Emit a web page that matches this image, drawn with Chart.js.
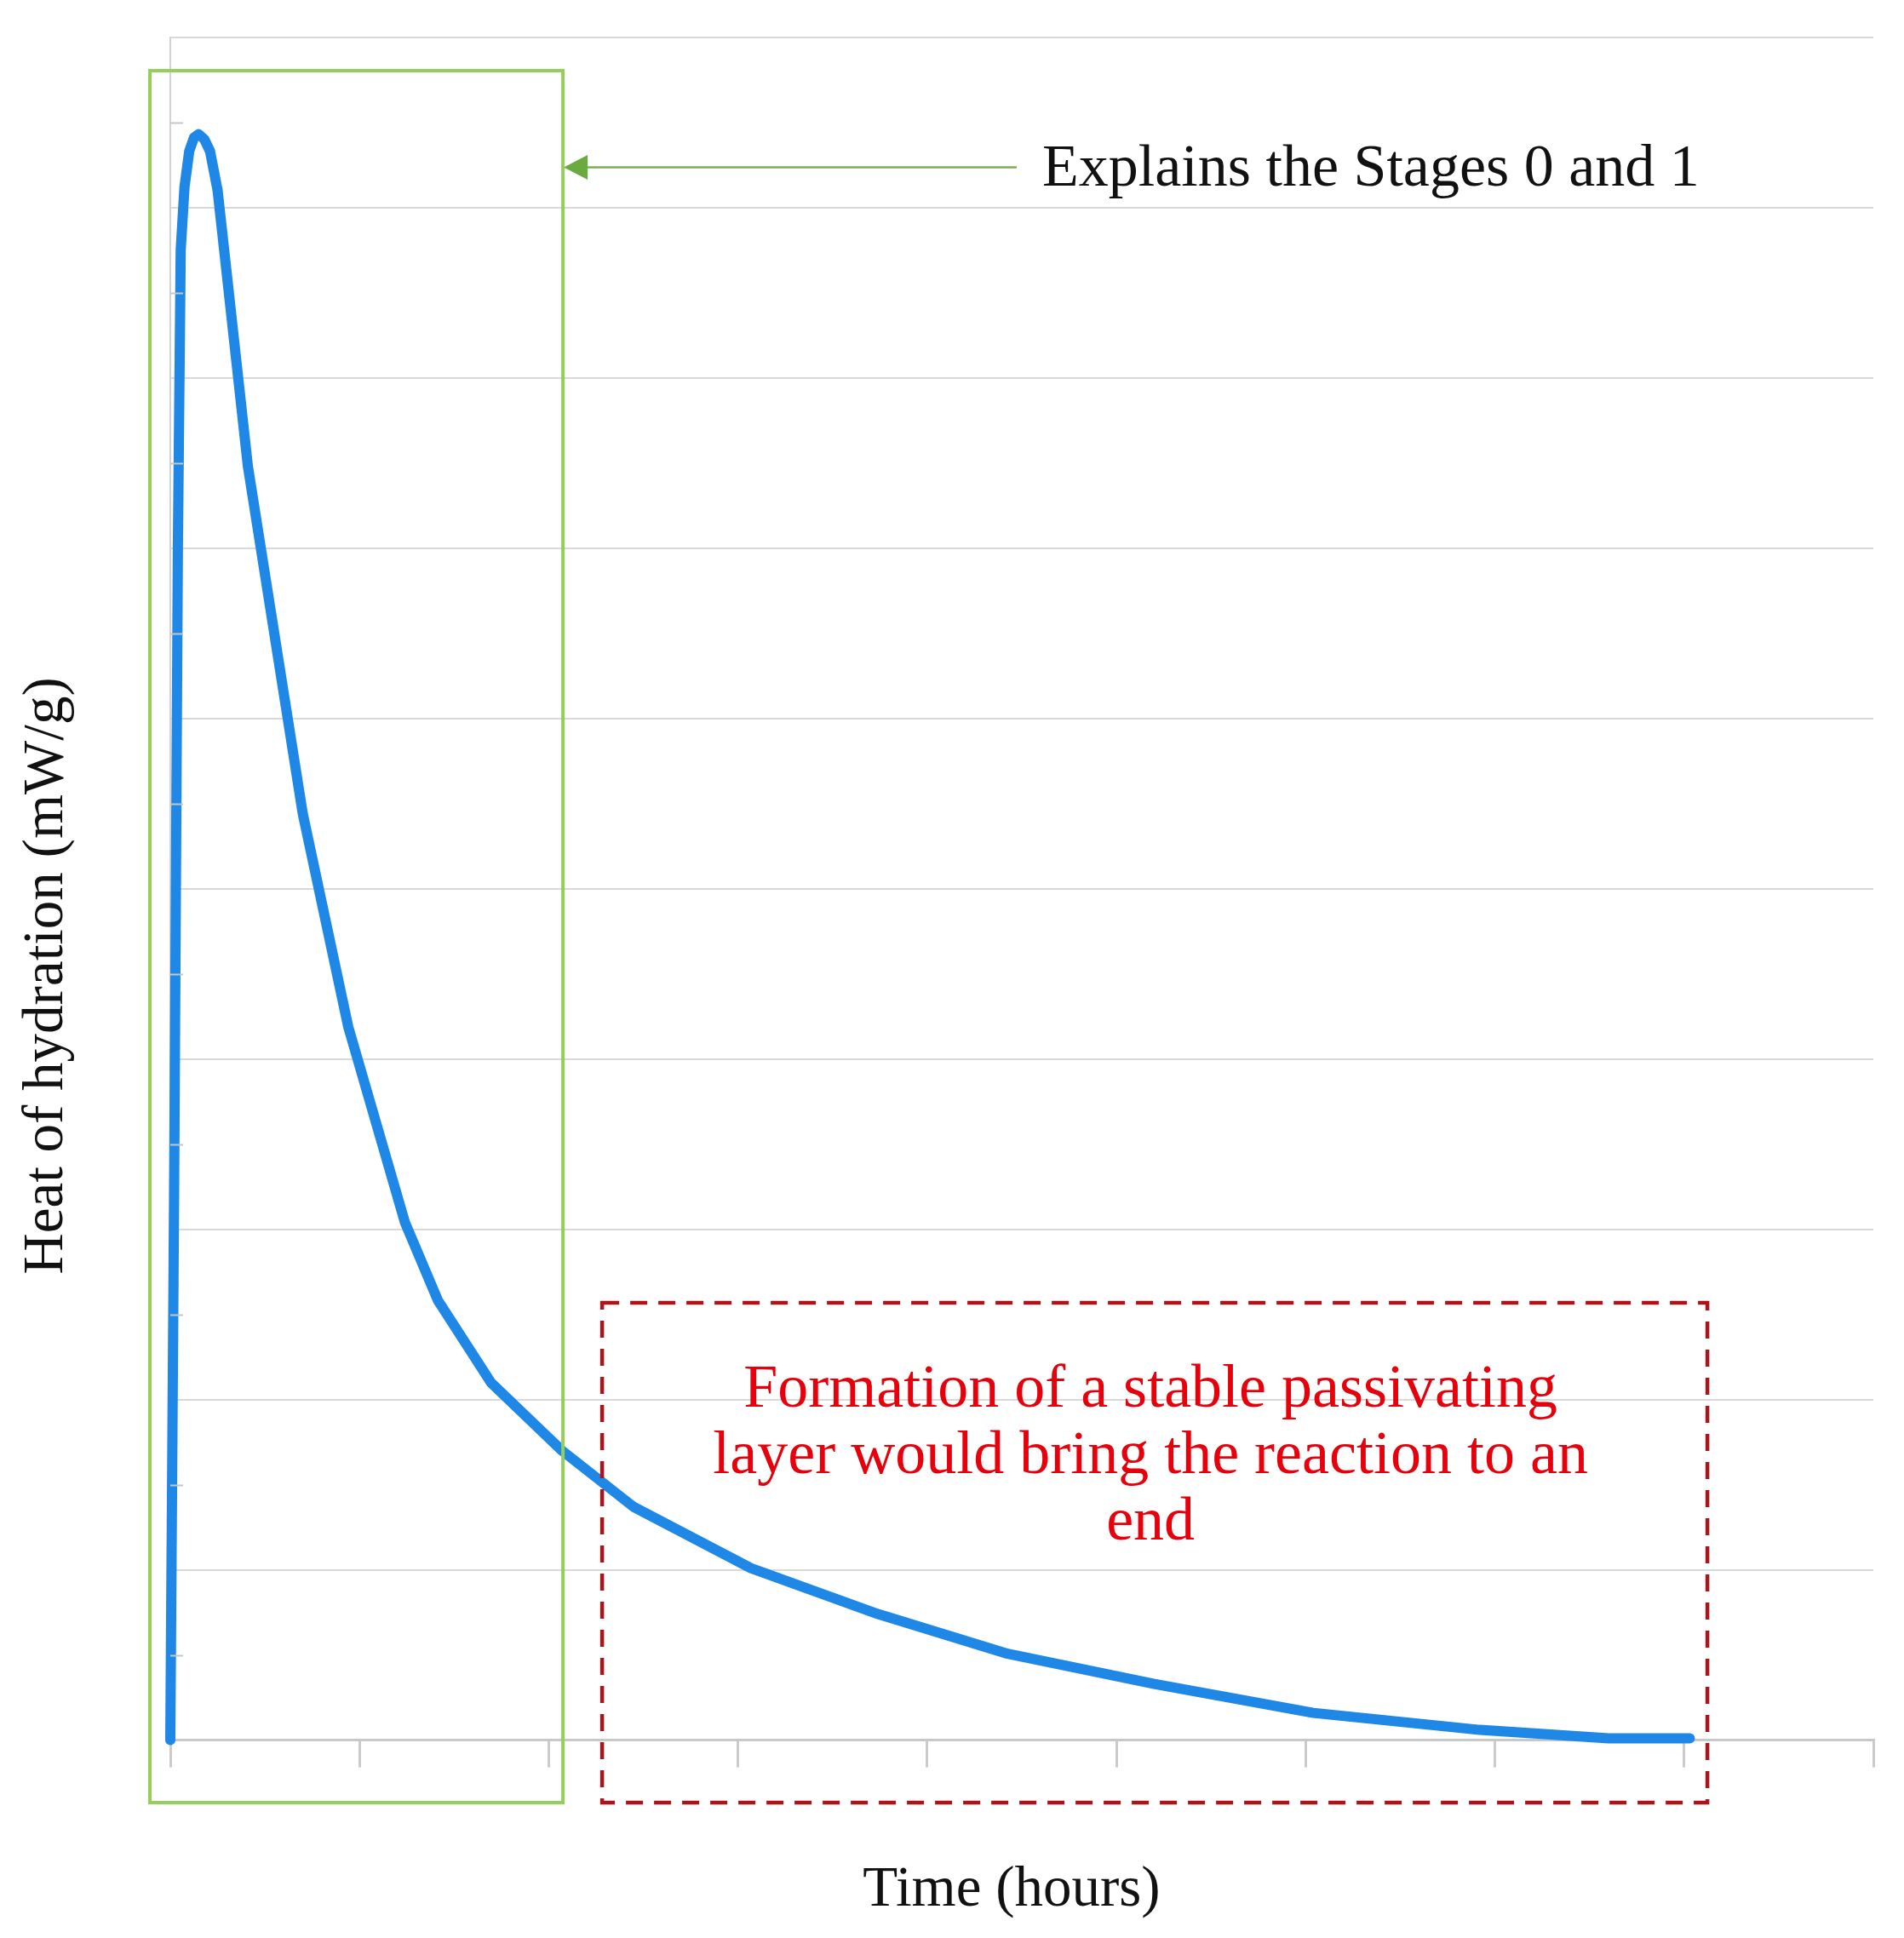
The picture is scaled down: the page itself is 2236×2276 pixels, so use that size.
<!DOCTYPE html>
<html>
<head>
<meta charset="utf-8">
<script src="https://cdn.jsdelivr.net/npm/chart.js@4.4.1/dist/chart.umd.min.js"></script>
<style>
  html, body { margin: 0; padding: 0; background: #ffffff; }
  canvas { display: block; }
</style>
</head>
<body>
<canvas id="c" width="2236" height="2276"></canvas>
<script>
// ---- data (x: time units along the axis, y: heat units) ----
const timeHours  = [0, 0.02, 0.04, 0.055, 0.075, 0.10, 0.125, 0.15, 0.18, 0.21, 0.25, 0.41, 0.70, 0.94, 1.24, 1.415, 1.694, 2.07, 2.448, 3.068, 3.74, 4.414, 5.2, 6.04, 6.92, 7.6, 8.03];
const heatValues = [0, 3.2, 7.0, 8.75, 9.12, 9.33, 9.41, 9.43, 9.40, 9.33, 9.10, 7.48, 5.44, 4.19, 3.04, 2.58, 2.10, 1.70, 1.37, 1.01, 0.74, 0.51, 0.33, 0.16, 0.06, 0.01, 0.01];

const xAxisTitle = 'Time (hours)';
const yAxisTitle = 'Heat of hydration (mW/g)';
const stageNote  = 'Explains the Stages 0 and 1';
const endNoteLines = ['Formation of a stable passivating', 'layer would bring the reaction to an', 'end'];

const xRange = [0, 9];
const yRange = [0, 10];

// annotation placement in axis units
const ann = {
  greenBox: { x0: -0.108, x1: 2.075, y0: 9.803, y1: -0.367 },
  redBox:   { x0: 2.282, x1: 8.123, y0: 2.568, y1: -0.367 },
  arrow:    { xFrom: 4.473, xTo: 2.075, y: 9.235 },
  stageText:{ x: 4.608, y: 9.128 },
  endText:  { x: 5.18, y: [1.958, 1.568, 1.178] },
  xTitle:   { x: 4.446, y: -0.972 },
  yTitle:   { x: -0.6525, y: 4.488 }
};

const serif = '"Liberation Serif", "Times New Roman", serif';

const overlay = {
  id: 'overlay',
  afterDraw(chart) {
    const ctx = chart.ctx;
    const xs = chart.scales.x, ys = chart.scales.y;
    const px = v => xs.getPixelForValue(v);
    const py = v => ys.getPixelForValue(v);
    ctx.save();

    // minor y tick marks between gridlines
    ctx.strokeStyle = '#c6c6c6';
    ctx.lineWidth = 2;
    for (let v = yRange[0] + 0.5; v < yRange[1]; v += 1) {
      const y = Math.round(py(v)) + 0.5;
      ctx.beginPath();
      ctx.moveTo(px(0), y);
      ctx.lineTo(px(0) + 15, y);
      ctx.stroke();
    }

    // green box
    const g = ann.greenBox;
    ctx.strokeStyle = '#94cf5a';
    ctx.lineWidth = 4;
    ctx.strokeRect(px(g.x0), py(g.y0), px(g.x1) - px(g.x0), py(g.y1) - py(g.y0));

    // arrow
    const a = ann.arrow;
    const ay = py(a.y);
    ctx.strokeStyle = '#79b052';
    ctx.lineWidth = 2.5;
    ctx.beginPath();
    ctx.moveTo(px(a.xFrom), ay);
    ctx.lineTo(px(a.xTo) + 20, ay);
    ctx.stroke();
    ctx.fillStyle = '#6aaa40';
    ctx.beginPath();
    ctx.moveTo(px(a.xTo) + 1, ay);
    ctx.lineTo(px(a.xTo) + 29, ay - 14.5);
    ctx.lineTo(px(a.xTo) + 29, ay + 14.5);
    ctx.closePath();
    ctx.fill();

    // red dashed box
    const r = ann.redBox;
    ctx.strokeStyle = '#b0121a';
    ctx.lineWidth = 4.5;
    ctx.setLineDash([20, 13]);
    ctx.strokeRect(px(r.x0), py(r.y0), px(r.x1) - px(r.x0), py(r.y1) - py(r.y0));
    ctx.setLineDash([]);

    // stage note text
    ctx.fillStyle = '#111111';
    ctx.font = '70px ' + serif;
    ctx.textAlign = 'left';
    ctx.textBaseline = 'alphabetic';
    ctx.fillText(stageNote, px(ann.stageText.x), py(ann.stageText.y));

    // end note text
    ctx.fillStyle = '#e6000c';
    ctx.font = '72px ' + serif;
    ctx.textAlign = 'center';
    endNoteLines.forEach((line, i) => {
      ctx.fillText(line, px(ann.endText.x), py(ann.endText.y[i]));
    });

    // axis titles
    ctx.fillStyle = '#111111';
    ctx.font = '67px ' + serif;
    ctx.textAlign = 'center';
    ctx.fillText(xAxisTitle, px(ann.xTitle.x), py(ann.xTitle.y));

    ctx.save();
    ctx.translate(px(ann.yTitle.x), py(ann.yTitle.y));
    ctx.rotate(-Math.PI / 2);
    ctx.textBaseline = 'middle';
    ctx.font = '67px ' + serif;
    ctx.fillText(yAxisTitle, 0, 0);
    ctx.restore();

    ctx.restore();
  }
};

new Chart(document.getElementById('c'), {
  type: 'scatter',
  data: {
    datasets: [{
      data: timeHours.map((t, i) => ({ x: t, y: heatValues[i] })),
      showLine: true,
      borderColor: '#1f87e6',
      backgroundColor: '#1f87e6',
      borderWidth: 12,
      pointRadius: 0,
      pointHoverRadius: 0,
      tension: 0,
      borderCapStyle: 'round',
      borderJoinStyle: 'round',
      clip: false
    }]
  },
  options: {
    responsive: false,
    animation: false,
    devicePixelRatio: 1,
    layout: { padding: { left: 200, right: 36, top: 43.6, bottom: 200.4 } },
    plugins: { legend: { display: false }, tooltip: { enabled: false }, title: { display: false } },
    scales: {
      x: {
        type: 'linear', min: xRange[0], max: xRange[1],
        ticks: { display: false, stepSize: 1 },
        grid: { drawOnChartArea: false, drawTicks: true, tickLength: 32, color: '#cbcbcb', lineWidth: 3 },
        border: { display: true, color: '#c8c8c8', width: 3 }
      },
      y: {
        type: 'linear', min: yRange[0], max: yRange[1],
        ticks: { display: false, stepSize: 1 },
        grid: { drawTicks: false, color: '#d9d9d9', lineWidth: 2 },
        border: { display: true, color: '#d2d2d2', width: 2 }
      }
    }
  },
  plugins: [overlay]
});
</script>
</body>
</html>
